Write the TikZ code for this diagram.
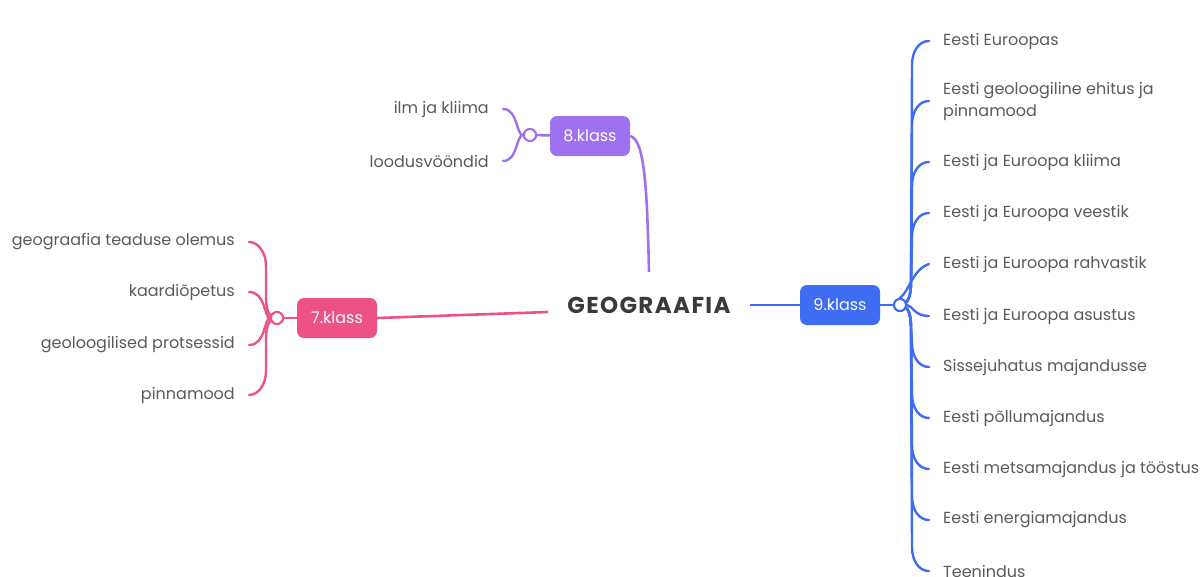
\documentclass[tikz,border=0pt]{standalone}
\usepackage{fontspec}
\setmainfont{Poppins}
\definecolor{pink7}{HTML}{EC5286}
\definecolor{violet8}{HTML}{9E72EE}
\definecolor{blue9}{HTML}{3E6CF3}
\definecolor{leafc}{HTML}{5A5A5A}
\definecolor{rootc}{HTML}{3A3A3A}

\begin{document}
\begin{tikzpicture}[x=1pt, y=-1pt,
    leaf/.style={text=leafc, font=\fontsize{16}{22}\selectfont, inner xsep=14pt, inner ysep=0pt},
    klass/.style={rounded corners=7pt, text=white, minimum width=80pt, minimum height=40pt, inner sep=0pt, font=\fontsize{16}{18}\selectfont},
    knot/.style={circle, draw, fill=white, line width=2pt, inner sep=0pt, minimum size=12pt},
    twig/.style={line width=2.4pt, line cap=round}]
    \useasboundingbox (0,0) rectangle (1204,576);
    \node[text=rootc, font=\fontsize{23}{26}\selectfont\bfseries\addfontfeatures{LetterSpace=6}, inner xsep=19pt, minimum height=66pt] (root) at (649, 305) {GEOGRAAFIA};

    \node[klass, fill=pink7] (c7) at (337, 318) {7.klass};
    \node[knot, draw=pink7] (k7) at (277, 318) {};
    \node[leaf, anchor=east] (p0) at (249, 242) {geograafia teaduse olemus};
    \node[leaf, anchor=east] (p1) at (249, 292) {kaardiõpetus};
    \node[leaf, anchor=east] (p2) at (249, 345) {geoloogilised protsessid};
    \node[leaf, anchor=east] (p3) at (249, 395) {pinnamood};

    \node[klass, fill=violet8] (c8) at (590, 136) {8.klass};
    \node[knot, draw=violet8] (k8) at (530, 135) {};
    \node[leaf, anchor=east] (v0) at (503, 109) {ilm ja kliima};
    \node[leaf, anchor=east] (v1) at (503, 161) {loodusvööndid};

    \node[klass, fill=blue9] (c9) at (840, 305) {9.klass};
    \node[knot, draw=blue9] (k9) at (900, 305) {};
    \node[leaf, anchor=west] (b0) at (929, 41) {Eesti Euroopas};
    \node[leaf, anchor=west, align=left] (b1) at (929, 101) {Eesti geoloogiline ehitus ja\\pinnamood};
    \node[leaf, anchor=west] (b2) at (929, 162) {Eesti ja Euroopa kliima};
    \node[leaf, anchor=west] (b3) at (929, 213) {Eesti ja Euroopa veestik};
    \node[leaf, anchor=west] (b4) at (929, 264) {Eesti ja Euroopa rahvastik};
    \node[leaf, anchor=west] (b5) at (929, 316) {Eesti ja Euroopa asustus};
    \node[leaf, anchor=west] (b6) at (929, 367) {Sissejuhatus majandusse};
    \node[leaf, anchor=west] (b7) at (929, 418) {Eesti põllumajandus};
    \node[leaf, anchor=west] (b8) at (929, 469) {Eesti metsamajandus ja tööstus};
    \node[leaf, anchor=west] (b9) at (929, 520) {Eesti energiamajandus};
    \node[leaf, anchor=west] (b10) at (929, 571) {Teenindus};

    \draw[pink7, line width=2.6pt] (c7.east) -- ([yshift=-7pt]root.west);
    \draw[pink7, line width=2.6pt] (k7) -- (c7);
    \draw[pink7, twig] (k7.center) .. controls (268, 318) and (266, 308) .. (266, 296) -- (266, 266) .. controls (266, 252) and (258, 242) .. (p0.east);
    \draw[pink7, twig] (k7.west) .. controls (264, 318) and (266, 292) .. (p1.east);
    \draw[pink7, twig] (k7.west) .. controls (264, 318) and (266, 345) .. (p2.east);
    \draw[pink7, twig] (k7.center) .. controls (268, 318) and (266, 328) .. (266, 340) -- (266, 371) .. controls (266, 385) and (258, 395) .. (p3.east);

    \draw[violet8, line width=2.6pt] (c8.east) .. controls (645, 140) and (647, 190) .. (root.north);
    \draw[violet8, line width=2.6pt] (k8) -- (c8);
    \draw[violet8, twig] (k8.west) .. controls (516, 135) and (518, 109) .. (v0.east);
    \draw[violet8, twig] (k8.west) .. controls (516, 135) and (518, 161) .. (v1.east);

    \draw[blue9, line width=2.6pt] (root) -- (c9);
    \draw[blue9, line width=2.6pt] (c9) -- (k9);
    \draw[blue9, twig] (k9.center) .. controls (908, 305) and (911, 296) .. (911, 282) -- (912, 65) .. controls (912, 51) and (919, 41) .. (b0.west);
    \draw[blue9, twig] (k9.center) .. controls (908, 305) and (911, 296) .. (911, 282) -- (912, 125) .. controls (912, 111) and (919, 101) .. (b1.west);
    \draw[blue9, twig] (k9.center) .. controls (908, 305) and (911, 296) .. (911, 282) -- (912, 186) .. controls (912, 172) and (919, 162) .. (b2.west);
    \draw[blue9, twig] (k9.center) .. controls (908, 305) and (911, 296) .. (911, 282) -- (912, 237) .. controls (912, 223) and (919, 213) .. (b3.west);
    \draw[blue9, twig] (k9.north) .. controls (910, 290) and (912, 270) .. (b4.west);
    \draw[blue9, twig] (k9.east) .. controls (912, 305) and (914, 316) .. (b5.west);
    \draw[blue9, twig] (k9.center) .. controls (908, 305) and (911, 314) .. (911, 328) -- (912, 343) .. controls (912, 357) and (919, 367) .. (b6.west);
    \draw[blue9, twig] (k9.center) .. controls (908, 305) and (911, 314) .. (911, 328) -- (912, 394) .. controls (912, 408) and (919, 418) .. (b7.west);
    \draw[blue9, twig] (k9.center) .. controls (908, 305) and (911, 314) .. (911, 328) -- (912, 445) .. controls (912, 459) and (919, 469) .. (b8.west);
    \draw[blue9, twig] (k9.center) .. controls (908, 305) and (911, 314) .. (911, 328) -- (912, 496) .. controls (912, 510) and (919, 520) .. (b9.west);
    \draw[blue9, twig] (k9.center) .. controls (908, 305) and (911, 314) .. (911, 328) -- (912, 547) .. controls (912, 561) and (919, 571) .. (b10.west);
    \node[knot, draw=pink7] at (k7) {};
    \node[knot, draw=violet8] at (k8) {};
    \node[knot, draw=blue9] at (k9) {};
\end{tikzpicture}
\end{document}
